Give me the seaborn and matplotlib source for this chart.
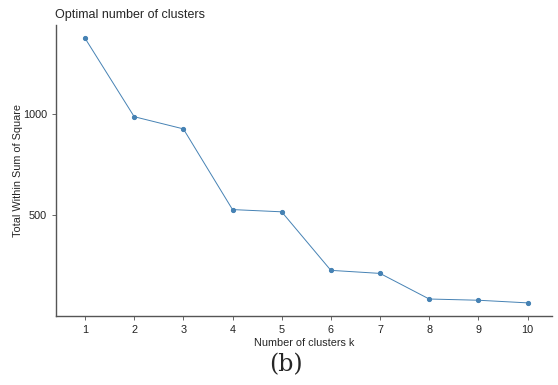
import matplotlib
matplotlib.use("Agg")
import matplotlib.pyplot as plt
import seaborn as sns
import pandas as pd

# Elbow curve values
k_values = [1, 2, 3, 4, 5, 6, 7, 8, 9, 10]
wss_values = [1371, 985, 925, 528, 517, 229, 214, 88, 82, 69]

x_ticks = list(range(1, 11))
y_ticks = [500, 1000]

sns.set_style("ticks")
plt.rcParams['font.family'] = ['Liberation Sans', 'DejaVu Sans']

df = pd.DataFrame({"k": k_values, "wss": wss_values})

fig = plt.figure(figsize=(5.58, 3.85), dpi=100)
ax = fig.add_axes([0.1004, 0.179, 0.889, 0.756])

sns.lineplot(data=df, x="k", y="wss", ax=ax, color="#4682B4",
             linewidth=0.7, marker="o", markersize=3,
             markeredgecolor="#4682B4")

ax.set_xlim(0.41, 10.5)
ax.set_ylim(4, 1436)
ax.set_xticks(x_ticks)
ax.set_yticks(y_ticks)
ax.tick_params(axis="both", labelsize=7.8, length=3, width=0.6,
               colors="#4d4d4d", labelcolor="#222222")

for side in ["top", "right"]:
    ax.spines[side].set_visible(False)
for side in ["left", "bottom"]:
    ax.spines[side].set_color("#555555")
    ax.spines[side].set_linewidth(1.0)

ax.set_title("Optimal number of clusters", fontsize=9, loc="left", x=-0.003, pad=5)
ax.set_xlabel("Number of clusters k", fontsize=7.8, labelpad=2)
ax.set_ylabel("Total Within Sum of Square", fontsize=7.8)
ax.yaxis.set_label_coords(-0.066, 0.5)

fig.text(0.513, 0.052, "(b)", fontsize=17, family="DejaVu Serif", ha="center", va="center")

fig.savefig("out.png", dpi=100)
